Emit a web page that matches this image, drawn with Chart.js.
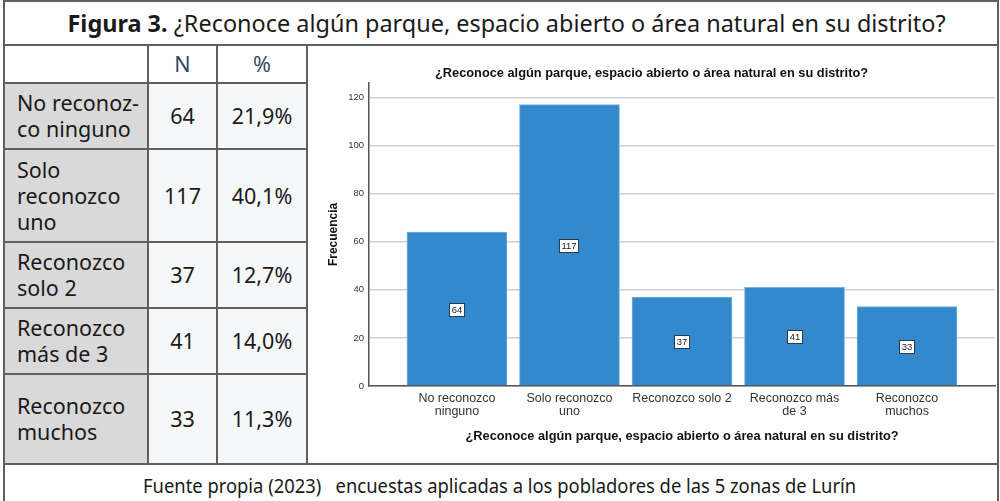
<!DOCTYPE html>
<html><head><meta charset="utf-8">
<script src="https://cdn.jsdelivr.net/npm/chart.js@4.4.0/dist/chart.umd.min.js"></script>
<style>
html,body{margin:0;padding:0;background:#fff;width:1000px;height:501px;overflow:hidden;}
#root{position:relative;width:1000px;height:501px;font-family:"Noto Sans",sans-serif;color:#1a1a1a;}
.ln{position:absolute;background:#5f5f5f;}
.cell{position:absolute;display:flex;align-items:center;box-sizing:border-box;font-size:21.5px;line-height:26px;}
.fit{position:absolute;white-space:nowrap;transform-origin:center center;}
#chartBox{position:absolute;left:308px;top:47px;width:690px;height:416px;}
</style></head>
<body><div id="root">
<div id="title" class="fit" data-w="878" data-cx="506" data-cy="22" style="font-size:24px;"><b>Figura 3.</b> ¿Reconoce algún parque, espacio abierto o área natural en su distrito?</div>
<div id="footer" class="fit" data-w="713" data-cx="499" data-cy="486" style="font-size:19px;">Fuente propia (2023) &nbsp; encuestas aplicadas a los pobladores de las 5 zonas de Lurín</div>
<div id="chartBox"><canvas id="c" width="690" height="416"></canvas></div>
</div>
<script>
// ---- data ----
const chartTitle = "¿Reconoce algún parque, espacio abierto o área natural en su distrito?";
const categories = [["No reconozco","ninguno"],["Solo reconozco","uno"],["Reconozco solo 2"],["Reconozco más","de 3"],["Reconozco","muchos"]];
const tableLabels = [["No reconoz-","co ninguno"],["Solo","reconozco","uno"],["Reconozco","solo 2"],["Reconozco","más de 3"],["Reconozco","muchos"]];
const counts = [64, 117, 37, 41, 33];
const percents = ["21,9%", "40,1%", "12,7%", "14,0%", "11,3%"];
const yTicks = [0, 20, 40, 60, 80, 100, 120];
const headers = ["", "N", "%"];

// ---- layout of the table ----
const root = document.getElementById('root');
const colX = [4, 148, 217, 307];
const rowY = [45, 83, 149, 242, 308, 374, 464];
function addCell(x0,y0,x1,y1,bg,html,align,color){
  const d=document.createElement('div');d.className='cell';
  d.style.left=x0+'px';d.style.top=y0+'px';d.style.width=(x1-x0)+'px';d.style.height=(y1-y0)+'px';
  d.style.background=bg;d.style.justifyContent=align;
  if(align==='flex-start')d.style.paddingLeft='13px';
  if(color)d.style.color=color;
  d.innerHTML='<div>'+html+'</div>';root.appendChild(d);
}
headers.forEach((h,j)=>addCell(colX[j],rowY[0],colX[j+1],rowY[1],'#fff',h,'center','#2e4a68'));
tableLabels.forEach((lab,i)=>{
  addCell(colX[0],rowY[i+1],colX[1],rowY[i+2],'#d9d9d9',lab.join('<br>'),'flex-start');
  addCell(colX[1],rowY[i+1],colX[2],rowY[i+2],'#f6f7f9',String(counts[i]),'center');
  addCell(colX[2],rowY[i+1],colX[3],rowY[i+2],'#f6f7f9',percents[i],'center');
});
function line(x,y,w,h){const d=document.createElement('div');d.className='ln';d.style.left=x+'px';d.style.top=y+'px';d.style.width=w+'px';d.style.height=h+'px';root.appendChild(d);}
line(3,0,996,2); line(3,0,2,501); line(997,0,2,501);
line(3,44,996,2); line(3,463,996,2);
colX.slice(1).forEach(x=>line(x-1,45,2,419));
rowY.slice(1,6).forEach(y=>line(4,y-1,303,2));

// fit texts
document.querySelectorAll('.fit').forEach(el=>{
  const w=el.offsetWidth,h=el.offsetHeight;
  const tw=+el.dataset.w;
  el.style.left=(+el.dataset.cx - w/2)+'px';
  el.style.top=(+el.dataset.cy - h/2)+'px';
  el.style.transform='scaleX('+(tw/w)+')';
});

// ---- chart ----
const boxLabels = {id:'boxLabels', afterDatasetsDraw(chart){
  const ctx=chart.ctx, meta=chart.getDatasetMeta(0);
  ctx.save(); ctx.font='9.5px "Liberation Sans", Arial, sans-serif';
  meta.data.forEach((bar,i)=>{
    const txt=String(counts[i]);
    const cx=Math.round(bar.x), cy=Math.round((bar.y+bar.base)/2)+1;
    const w=Math.round(ctx.measureText(txt).width)+5, h=14;
    ctx.fillStyle='#fff'; ctx.fillRect(cx-w/2,cy-h/2,w,h);
    ctx.strokeStyle='#2b3a4a'; ctx.lineWidth=1; ctx.strokeRect(cx-w/2+0.5,cy-h/2+0.5,w-1,h-1);
    ctx.fillStyle='#222'; ctx.textAlign='center'; ctx.textBaseline='middle';
    ctx.fillText(txt,cx,cy+0.5);
  });
  ctx.restore();
}};

Chart.defaults.font.family='"Liberation Sans", Arial, sans-serif';
Chart.defaults.color='#222';
new Chart(document.getElementById('c'),{
  type:'bar',
  data:{datasets:[{data:counts.map((v,i)=>({x:i,y:v})),backgroundColor:'#3389cb',borderColor:'#72b4e4',borderWidth:1,barThickness:100}]},
  options:{
    responsive:false,animation:false,
    layout:{padding:{left:0,right:3,top:0,bottom:0}},
    plugins:{legend:{display:false},tooltip:{enabled:false},
      title:{display:true,text:chartTitle,font:{size:12.8,weight:'bold'},color:'#111',padding:{top:18.5,bottom:2}}},
    scales:{
      x:{type:'linear',min:-0.782,max:4.782,offset:false,
        afterBuildTicks:s=>{s.ticks=categories.map((_,i)=>({value:i}));},
        afterFit:s=>{s.height=77;},
        ticks:{callback:v=>categories[v],autoSkip:false,maxRotation:0,padding:6.5,font:{size:12.5,lineHeight:1.04},color:'#333'},
        grid:{display:false,drawTicks:false,offset:false},
        border:{display:true,color:'#555',width:1.5},
        title:{display:true,text:chartTitle,font:{size:12.8,weight:'bold'},color:'#111',padding:{top:10,bottom:18.5}}},
      y:{min:0,max:126,
        afterBuildTicks:s=>{s.ticks=yTicks.map(v=>({value:v}));},
        afterFit:s=>{s.width=61;},
        ticks:{padding:5,font:{size:9.5},color:'#333'},
        grid:{color:'#d0d0d0',lineWidth:1.5,drawTicks:false},
        border:{display:true,color:'#555',width:1.5},
        title:{display:true,text:'Frecuencia',font:{size:12,weight:'bold'},color:'#111',padding:{top:18,bottom:0}}}
    }
  },
  plugins:[boxLabels]
});
</script>
</body></html>
